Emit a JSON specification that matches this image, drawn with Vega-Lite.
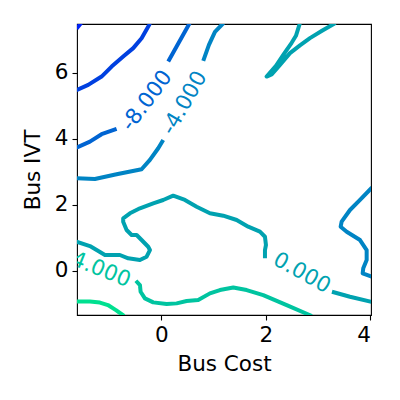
{
  "$schema": "https://vega.github.io/schema/vega-lite/v6.json",
  "autosize": "none",
  "padding": {"left": 77, "top": 24, "right": 29, "bottom": 85},
  "width": 294,
  "height": 291,
  "config": {
    "font": "DejaVu Sans",
    "view": {"stroke": "#000000", "strokeWidth": 1.1},
    "axis": {
      "grid": false,
      "domain": false,
      "labelFont": "DejaVu Sans",
      "titleFont": "DejaVu Sans",
      "labelFontSize": 21.5,
      "titleFontSize": 21.5,
      "titleFontWeight": "normal",
      "labelColor": "#000000",
      "titleColor": "#000000",
      "tickColor": "#000000",
      "tickSize": 5,
      "tickWidth": 1.1,
      "labelPadding": 4
    }
  },
  "datasets": {
    "lines": [
      {"seg": "m16", "level": -16, "o": 0, "cost": -1.62, "ivt": 7.33},
      {"seg": "m16", "level": -16, "o": 1, "cost": -1.53, "ivt": 7.50},

      {"seg": "m12", "level": -12, "o": 0, "cost": -1.62, "ivt": 5.47},
      {"seg": "m12", "level": -12, "o": 1, "cost": -1.396, "ivt": 5.627},
      {"seg": "m12", "level": -12, "o": 2, "cost": -1.14, "ivt": 5.879},
      {"seg": "m12", "level": -12, "o": 3, "cost": -0.948, "ivt": 6.18},
      {"seg": "m12", "level": -12, "o": 4, "cost": -0.727, "ivt": 6.485},
      {"seg": "m12", "level": -12, "o": 5, "cost": -0.535, "ivt": 6.74},
      {"seg": "m12", "level": -12, "o": 6, "cost": -0.375, "ivt": 7.04},
      {"seg": "m12", "level": -12, "o": 7, "cost": -0.229, "ivt": 7.445},
      {"seg": "m12", "level": -12, "o": 8, "cost": -0.215, "ivt": 7.50},

      {"seg": "m8a", "level": -8, "o": 0, "cost": -1.62, "ivt": 3.727},
      {"seg": "m8a", "level": -8, "o": 1, "cost": -1.363, "ivt": 3.909},
      {"seg": "m8a", "level": -8, "o": 2, "cost": -1.14, "ivt": 4.133},
      {"seg": "m8a", "level": -8, "o": 3, "cost": -0.853, "ivt": 4.294},
      {"seg": "m8b", "level": -8, "o": 0, "cost": 0.134, "ivt": 6.333},
      {"seg": "m8b", "level": -8, "o": 1, "cost": 0.294, "ivt": 6.788},
      {"seg": "m8b", "level": -8, "o": 2, "cost": 0.545, "ivt": 7.50},

      {"seg": "m4a", "level": -4, "o": 0, "cost": -1.62, "ivt": 2.8},
      {"seg": "m4a", "level": -4, "o": 1, "cost": -1.268, "ivt": 2.779},
      {"seg": "m4a", "level": -4, "o": 2, "cost": -0.853, "ivt": 2.921},
      {"seg": "m4a", "level": -4, "o": 3, "cost": -0.375, "ivt": 3.073},
      {"seg": "m4a", "level": -4, "o": 4, "cost": -0.216, "ivt": 3.355},
      {"seg": "m4a", "level": -4, "o": 5, "cost": -0.057, "ivt": 3.709},
      {"seg": "m4a", "level": -4, "o": 6, "cost": 0.038, "ivt": 3.961},
      {"seg": "m4b", "level": -4, "o": 0, "cost": 0.803, "ivt": 6.355},
      {"seg": "m4b", "level": -4, "o": 1, "cost": 0.912, "ivt": 6.839},
      {"seg": "m4b", "level": -4, "o": 2, "cost": 1.027, "ivt": 7.233},
      {"seg": "m4b", "level": -4, "o": 3, "cost": 1.19, "ivt": 7.50},
      {"seg": "m4c", "level": -4, "o": 0, "cost": 4.03, "ivt": 2.52},
      {"seg": "m4c", "level": -4, "o": 1, "cost": 3.8, "ivt": 2.142},
      {"seg": "m4c", "level": -4, "o": 2, "cost": 3.608, "ivt": 1.839},
      {"seg": "m4c", "level": -4, "o": 3, "cost": 3.449, "ivt": 1.485},
      {"seg": "m4c", "level": -4, "o": 4, "cost": 3.43, "ivt": 1.333},
      {"seg": "m4c", "level": -4, "o": 5, "cost": 3.545, "ivt": 1.182},
      {"seg": "m4c", "level": -4, "o": 6, "cost": 3.8, "ivt": 0.93},
      {"seg": "m4c", "level": -4, "o": 7, "cost": 3.927, "ivt": 0.627},
      {"seg": "m4c", "level": -4, "o": 8, "cost": 3.927, "ivt": 0.324},
      {"seg": "m4c", "level": -4, "o": 9, "cost": 3.862, "ivt": 0.073},
      {"seg": "m4c", "level": -4, "o": 10, "cost": 3.851, "ivt": -0.079},
      {"seg": "m4c", "level": -4, "o": 11, "cost": 4.03, "ivt": -0.182},

      {"seg": "z0a", "level": 0, "o": 0, "cost": -1.62, "ivt": 0.879},
      {"seg": "z0a", "level": 0, "o": 1, "cost": -1.363, "ivt": 0.748},
      {"seg": "z0a", "level": 0, "o": 2, "cost": -1.235, "ivt": 0.627},
      {"seg": "z0a", "level": 0, "o": 3, "cost": -1.076, "ivt": 0.476},
      {"seg": "z0a", "level": 0, "o": 4, "cost": -0.79, "ivt": 0.476},
      {"seg": "z0a", "level": 0, "o": 5, "cost": -0.631, "ivt": 0.376},
      {"seg": "z0a", "level": 0, "o": 6, "cost": -0.407, "ivt": 0.324},
      {"seg": "z0a", "level": 0, "o": 7, "cost": -0.279, "ivt": 0.424},
      {"seg": "z0a", "level": 0, "o": 8, "cost": -0.216, "ivt": 0.627},
      {"seg": "z0a", "level": 0, "o": 9, "cost": -0.249, "ivt": 0.727},
      {"seg": "z0a", "level": 0, "o": 10, "cost": -0.375, "ivt": 0.93},
      {"seg": "z0a", "level": 0, "o": 11, "cost": -0.47, "ivt": 1.082},
      {"seg": "z0a", "level": 0, "o": 12, "cost": -0.566, "ivt": 1.082},
      {"seg": "z0a", "level": 0, "o": 13, "cost": -0.662, "ivt": 1.233},
      {"seg": "z0a", "level": 0, "o": 14, "cost": -0.727, "ivt": 1.485},
      {"seg": "z0a", "level": 0, "o": 15, "cost": -0.727, "ivt": 1.588},
      {"seg": "z0a", "level": 0, "o": 16, "cost": -0.598, "ivt": 1.739},
      {"seg": "z0a", "level": 0, "o": 17, "cost": -0.407, "ivt": 1.891},
      {"seg": "z0a", "level": 0, "o": 18, "cost": -0.153, "ivt": 2.042},
      {"seg": "z0a", "level": 0, "o": 19, "cost": 0.038, "ivt": 2.142},
      {"seg": "z0a", "level": 0, "o": 20, "cost": 0.229, "ivt": 2.273},
      {"seg": "z0a", "level": 0, "o": 21, "cost": 0.453, "ivt": 2.142},
      {"seg": "z0a", "level": 0, "o": 22, "cost": 0.677, "ivt": 1.939},
      {"seg": "z0a", "level": 0, "o": 23, "cost": 0.931, "ivt": 1.739},
      {"seg": "z0a", "level": 0, "o": 24, "cost": 1.185, "ivt": 1.667},
      {"seg": "z0a", "level": 0, "o": 25, "cost": 1.442, "ivt": 1.536},
      {"seg": "z0a", "level": 0, "o": 26, "cost": 1.663, "ivt": 1.333},
      {"seg": "z0a", "level": 0, "o": 27, "cost": 1.887, "ivt": 1.182},
      {"seg": "z0a", "level": 0, "o": 28, "cost": 1.983, "ivt": 1.03},
      {"seg": "z0a", "level": 0, "o": 29, "cost": 2.002, "ivt": 0.779},
      {"seg": "z0a", "level": 0, "o": 30, "cost": 1.983, "ivt": 0.627},
      {"seg": "z0a", "level": 0, "o": 31, "cost": 1.983, "ivt": 0.376},
      {"seg": "z0b", "level": 0, "o": 0, "cost": 3.264, "ivt": -0.636},
      {"seg": "z0b", "level": 0, "o": 1, "cost": 3.608, "ivt": -0.788},
      {"seg": "z0b", "level": 0, "o": 2, "cost": 4.03, "ivt": -0.945},
      {"seg": "z0c", "level": 0, "o": 0, "cost": 2.652, "ivt": 7.50},
      {"seg": "z0c", "level": 0, "o": 1, "cost": 2.575, "ivt": 7.112},
      {"seg": "z0c", "level": 0, "o": 2, "cost": 2.493, "ivt": 6.9},
      {"seg": "z0c", "level": 0, "o": 3, "cost": 2.346, "ivt": 6.567},
      {"seg": "z0c", "level": 0, "o": 4, "cost": 2.193, "ivt": 6.203},
      {"seg": "z0c", "level": 0, "o": 5, "cost": 2.015, "ivt": 5.879},
      {"seg": "z0c", "level": 0, "o": 6, "cost": 2.111, "ivt": 5.945},
      {"seg": "z0c", "level": 0, "o": 7, "cost": 2.27, "ivt": 6.233},
      {"seg": "z0c", "level": 0, "o": 8, "cost": 2.461, "ivt": 6.588},
      {"seg": "z0c", "level": 0, "o": 9, "cost": 2.652, "ivt": 6.824},
      {"seg": "z0c", "level": 0, "o": 10, "cost": 2.843, "ivt": 7.042},
      {"seg": "z0c", "level": 0, "o": 11, "cost": 3.073, "ivt": 7.264},
      {"seg": "z0c", "level": 0, "o": 12, "cost": 3.33, "ivt": 7.50},

      {"seg": "p4", "level": 4, "o": 0, "cost": -0.484, "ivt": -0.303},
      {"seg": "p4", "level": 4, "o": 1, "cost": -0.407, "ivt": -0.433},
      {"seg": "p4", "level": 4, "o": 2, "cost": -0.394, "ivt": -0.636},
      {"seg": "p4", "level": 4, "o": 3, "cost": -0.312, "ivt": -0.836},
      {"seg": "p4", "level": 4, "o": 4, "cost": -0.153, "ivt": -0.958},
      {"seg": "p4", "level": 4, "o": 5, "cost": 0.103, "ivt": -1.009},
      {"seg": "p4", "level": 4, "o": 6, "cost": 0.294, "ivt": -0.988},
      {"seg": "p4", "level": 4, "o": 7, "cost": 0.486, "ivt": -0.918},
      {"seg": "p4", "level": 4, "o": 8, "cost": 0.707, "ivt": -0.888},
      {"seg": "p4", "level": 4, "o": 9, "cost": 0.931, "ivt": -0.685},
      {"seg": "p4", "level": 4, "o": 10, "cost": 1.122, "ivt": -0.585},
      {"seg": "p4", "level": 4, "o": 11, "cost": 1.377, "ivt": -0.509},
      {"seg": "p4", "level": 4, "o": 12, "cost": 1.633, "ivt": -0.585},
      {"seg": "p4", "level": 4, "o": 13, "cost": 1.95, "ivt": -0.736},
      {"seg": "p4", "level": 4, "o": 14, "cost": 2.398, "ivt": -1.039},
      {"seg": "p4", "level": 4, "o": 15, "cost": 2.88, "ivt": -1.37},

      {"seg": "p8", "level": 8, "o": 0, "cost": -1.62, "ivt": -0.933},
      {"seg": "p8", "level": 8, "o": 1, "cost": -1.363, "ivt": -0.933},
      {"seg": "p8", "level": 8, "o": 2, "cost": -1.172, "ivt": -0.964},
      {"seg": "p8", "level": 8, "o": 3, "cost": -1.019, "ivt": -1.039},
      {"seg": "p8", "level": 8, "o": 4, "cost": -0.866, "ivt": -1.191},
      {"seg": "p8", "level": 8, "o": 5, "cost": -0.71, "ivt": -1.37}
    ],
    "labels": [
      {"level": -8, "text": "-8.000", "cost": -0.268, "ivt": 5.14},
      {"level": -4, "text": "-4.000", "cost": 0.453, "ivt": 5.07},
      {"level": 0, "text": "0.000", "cost": 2.685, "ivt": -0.079},
      {"level": 4, "text": "4.000", "cost": -1.155, "ivt": 0.015}
    ]
  },
  "encoding": {
    "x": {"field": "cost", "type": "quantitative", "scale": {"domain": [-1.61, 4.01], "nice": false, "zero": false},
          "axis": {"values": [0, 2, 4], "title": "Bus Cost", "titlePadding": 8}},
    "y": {"field": "ivt", "type": "quantitative", "scale": {"domain": [-1.34, 7.47], "nice": false, "zero": false},
          "axis": {"values": [0, 2, 4, 6], "title": "Bus IVT", "titlePadding": 10}},
    "color": {"field": "level", "type": "nominal", "legend": null,
              "scale": {"domain": [-16, -12, -8, -4, 0, 4, 8],
                        "range": ["#0022f6", "#0040e0", "#0064d2", "#0084c4", "#00a2b0", "#00c4a0", "#00e090"]}}
  },
  "layer": [
    {
      "data": {"name": "lines"},
      "mark": {"type": "line", "clip": true, "strokeWidth": 4, "strokeJoin": "round", "strokeCap": "butt"},
      "encoding": {"detail": {"field": "seg"}, "order": {"field": "o", "type": "quantitative"}}
    },
    {
      "data": {"name": "labels"},
      "transform": [{"filter": "datum.level == -8"}],
      "mark": {"type": "text", "clip": true, "fontSize": 21.5, "angle": -53, "align": "center", "baseline": "middle"},
      "encoding": {"text": {"field": "text"}}
    },
    {
      "data": {"name": "labels"},
      "transform": [{"filter": "datum.level == -4"}],
      "mark": {"type": "text", "clip": true, "fontSize": 21.5, "angle": -60, "align": "center", "baseline": "middle"},
      "encoding": {"text": {"field": "text"}}
    },
    {
      "data": {"name": "labels"},
      "transform": [{"filter": "datum.level == 0"}],
      "mark": {"type": "text", "clip": true, "fontSize": 21.5, "angle": 29, "align": "center", "baseline": "middle"},
      "encoding": {"text": {"field": "text"}}
    },
    {
      "data": {"name": "labels"},
      "transform": [{"filter": "datum.level == 4"}],
      "mark": {"type": "text", "clip": true, "fontSize": 21.5, "angle": 22, "align": "center", "baseline": "middle"},
      "encoding": {"text": {"field": "text"}}
    }
  ]
}
